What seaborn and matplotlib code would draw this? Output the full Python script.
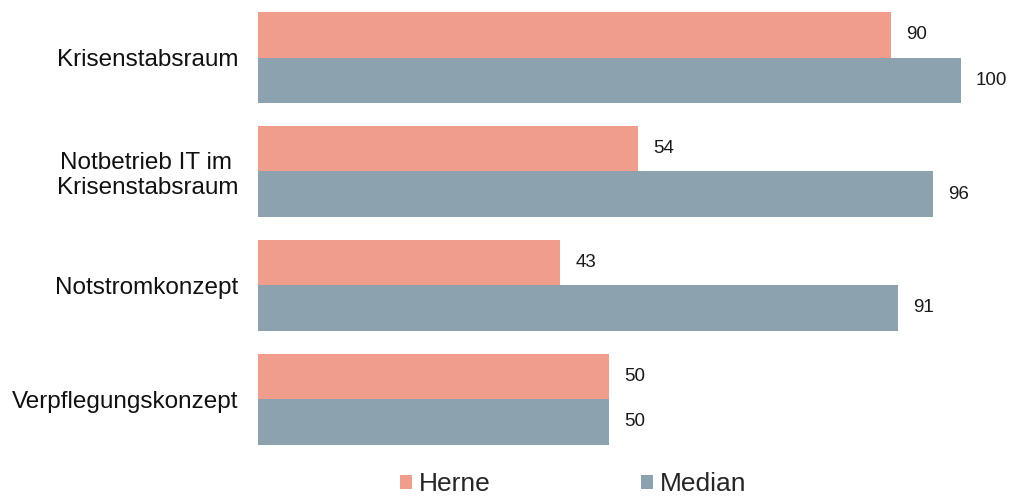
import numpy as np
import pandas as pd
import matplotlib as mpl
import seaborn as sns
from matplotlib import pyplot as plt
from matplotlib.patches import Patch

categories = ["Krisenstabsraum", "Notbetrieb IT im \nKrisenstabsraum",
              "Notstromkonzept", "Verpflegungskonzept"]
herne = [90, 54, 43, 50]
median = [100, 96, 91, 50]
series = ["Herne", "Median"]
colors = ["#F09D8C", "#8CA2AE"]

if __name__ == "__main__":

    sns.set_style("white")
    plt.rcParams["font.family"] = ["Liberation Sans", "DejaVu Sans"]

    df = pd.DataFrame({
        "category": categories * 2,
        "value": herne + median,
        "series": [series[0]] * len(herne) + [series[1]] * len(median),
    })

    fig = plt.figure(figsize=(10.15, 4.98), dpi=100)
    ax = fig.add_axes([258 / 1015, 1 - 456 / 498, (1010 - 258) / 1015, 455.4 / 498])
    sns.barplot(data=df, y="category", x="value", hue="series", palette=colors,
                order=categories, hue_order=series, orient="h", width=0.8,
                saturation=1, linewidth=0, ax=ax, legend=False)

    for container in ax.containers:
        ax.bar_label(container, padding=11, fontsize=13.5, color="#1a1a1a")

    ax.set_xlim(0, 107)
    ax.set_xlabel("")
    ax.set_ylabel("")
    ax.set_xticks([])
    ax.tick_params(axis="y", length=0, pad=14, labelsize=17.5, labelcolor="#111111")
    sns.despine(ax=ax, left=True, bottom=True)

    handles = [Patch(facecolor=c, edgecolor="none", label=s) for c, s in zip(colors, series)]
    fig.legend(handles=handles, loc="center", bbox_to_anchor=(573 / 1015, 1 - 484 / 498),
               ncol=2, frameon=False, fontsize=19, handlelength=0.45, handleheight=0.45,
               handletextpad=0.27, columnspacing=5.7, borderpad=0)

    plt.savefig("out.png", dpi=100)
